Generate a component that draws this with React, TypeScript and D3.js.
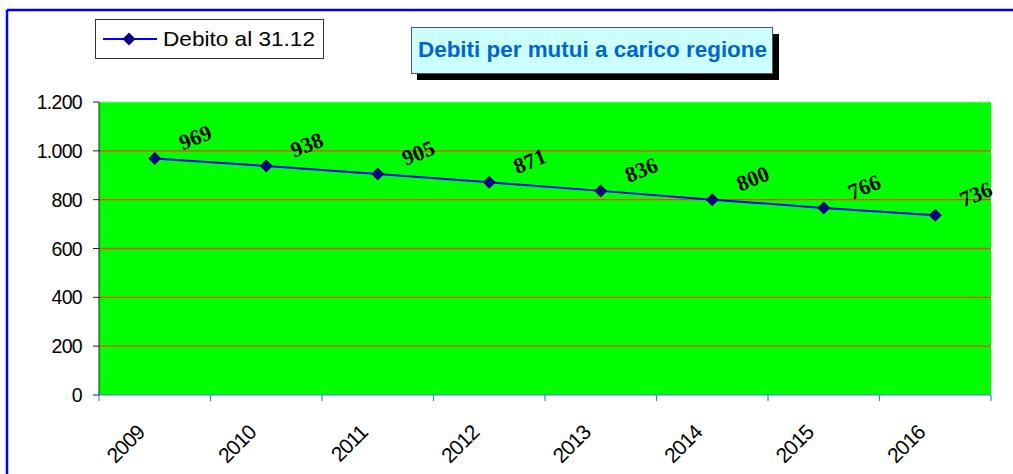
import React from 'react';
import * as d3 from 'd3';

const years = ['2009', '2010', '2011', '2012', '2013', '2014', '2015', '2016'];
const debito = [969, 938, 905, 871, 836, 800, 766, 736];
const yTicks = [0, 200, 400, 600, 800, 1000, 1200];
const yTickLabels = ['0', '200', '400', '600', '800', '1.000', '1.200'];

const seriesName = 'Debito al 31.12';
const title = 'Debiti per mutui a carico regione';

const W = 1013;
const H = 474;
const plot = { left: 99, right: 991, top: 102, bottom: 395 };

const diamond = (cx: number, cy: number, r: number) =>
  `M${cx},${cy - r}L${cx + r},${cy}L${cx},${cy + r}L${cx - r},${cy}Z`;

const App = () => {
  const x = d3.scaleBand().domain(years).range([plot.left, plot.right]);
  const y = d3.scaleLinear().domain([0, 1200]).range([plot.bottom, plot.top]);

  const line = d3
    .line<number>()
    .x((_, i) => (x(years[i]) as number) + x.bandwidth() / 2)
    .y((d) => y(d));

  const boundaries = years.map((yr) => x(yr) as number).concat([plot.right]);

  return (
    <svg width={W} height={H} style={{ position: 'absolute', left: 0, top: 0, background: '#fff' }}>
      {/* outer frame */}
      <line x1={7} y1={10} x2={W} y2={10} stroke="#0000ff" strokeWidth={2.5} />
      <line x1={7} y1={10} x2={7} y2={H} stroke="#0000ff" strokeWidth={2.5} />

      {/* plot background */}
      <rect
        x={plot.left}
        y={plot.top}
        width={plot.right - plot.left}
        height={plot.bottom - plot.top}
        fill="#00ff00"
      />
      <line x1={plot.left} y1={plot.top} x2={plot.right} y2={plot.top} stroke="#80ff80" strokeWidth={1} />

      {/* gridlines */}
      {yTicks
        .filter((t) => t > 0 && t < 1200)
        .map((t) => (
          <line
            key={t}
            x1={plot.left}
            x2={plot.right}
            y1={y(t)}
            y2={y(t)}
            stroke="#ff3c00"
            strokeWidth={1.3}
          />
        ))}

      {/* y axis */}
      <line x1={plot.left} y1={plot.top} x2={plot.left} y2={plot.bottom} stroke="#222" strokeWidth={1} />
      {yTicks.map((t, i) => (
        <g key={t}>
          <line x1={plot.left - 6} x2={plot.left} y1={y(t)} y2={y(t)} stroke="#222" strokeWidth={1} />
          <text
            x={82}
            y={y(t)}
            dy="0.36em"
            textAnchor="end"
            fontFamily="Liberation Sans, Arial, sans-serif"
            fontSize={19.5}
            letterSpacing={-0.7}
            fill="#000"
          >
            {yTickLabels[i]}
          </text>
        </g>
      ))}

      {/* x axis */}
      <line x1={plot.left} y1={plot.bottom} x2={plot.right} y2={plot.bottom} stroke="#3b7fd6" strokeWidth={1.2} />
      {boundaries.map((bx, i) => (
        <line key={i} x1={bx} x2={bx} y1={plot.bottom} y2={plot.bottom + 6} stroke="#3b7fd6" strokeWidth={1.2} />
      ))}
      {years.map((yr) => {
        const cx = (x(yr) as number) + x.bandwidth() / 2;
        return (
          <text
            key={yr}
            transform={`translate(${cx - 9},${434}) rotate(-45)`}
            textAnchor="end"
            fontFamily="Liberation Sans, Arial, sans-serif"
            fontSize={21}
            letterSpacing={-1}
            fill="#000"
          >
            {yr}
          </text>
        );
      })}

      {/* series */}
      <path d={line(debito) || ''} fill="none" stroke="#0000ff" strokeWidth={2} />
      {debito.map((v, i) => {
        const cx = (x(years[i]) as number) + x.bandwidth() / 2;
        const cy = y(v);
        return (
          <g key={i}>
            <path d={diamond(cx, cy, 6.5)} fill="#000080" />
            <text
              transform={`translate(${cx + 28},${cy - 8}) rotate(-22)`}
              fontFamily="Liberation Serif, Times New Roman, serif"
              fontWeight="bold"
              fontSize={22}
              fill="#000"
            >
              {v}
            </text>
          </g>
        );
      })}

      {/* legend */}
      <rect x={95.5} y={19.5} width={228} height={39} fill="#fff" stroke="#333" strokeWidth={1} />
      <line x1={103} x2={157} y1={39} y2={39} stroke="#0000ff" strokeWidth={2} />
      <path d={diamond(129, 39, 6.5)} fill="#000080" />
      <text
        x={163}
        y={46}
        textLength={152}
        lengthAdjust="spacingAndGlyphs"
        fontFamily="Liberation Sans, Arial, sans-serif"
        fontSize={21}
        fill="#000"
      >
        {seriesName}
      </text>

      {/* title */}
      <rect x={417} y={34} width={362} height={46} fill="#000" />
      <rect x={411.5} y={27.5} width={361} height={46} fill="#ccffff" stroke="#555" strokeWidth={1} />
      <text
        x={418}
        y={57}
        textLength={349}
        lengthAdjust="spacingAndGlyphs"
        fontFamily="Liberation Sans, Arial, sans-serif"
        fontWeight="bold"
        fontSize={22}
        fill="#0066cc"
      >
        {title}
      </text>
    </svg>
  );
};

export default App;
